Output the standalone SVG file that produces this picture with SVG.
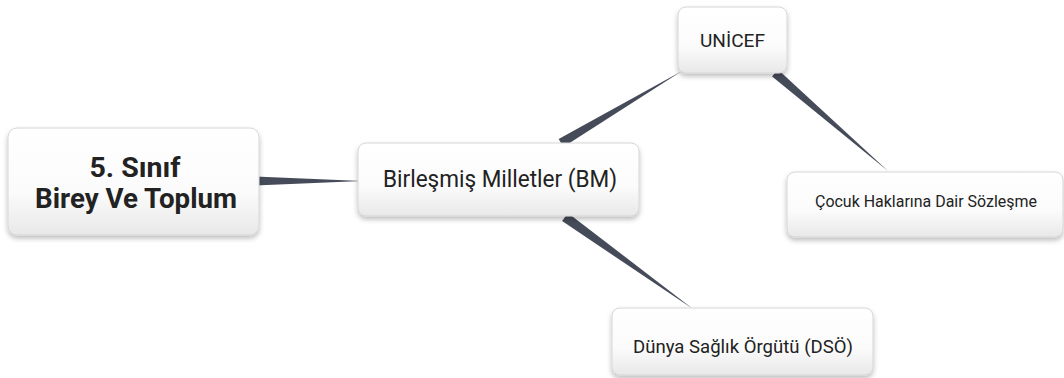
<svg xmlns="http://www.w3.org/2000/svg" width="1064" height="378" viewBox="0 0 1064 378">
<style>
.box{fill:url(#g);stroke:#d6d6d6;stroke-width:1;filter:url(#sh)}
.t{font-family:Roboto,"Liberation Sans",sans-serif;fill:#222;text-anchor:middle}
.c{fill:#464b59}
</style>
<defs>
<linearGradient id="g" x1="0" y1="0" x2="0" y2="1">
<stop offset="0" stop-color="#ffffff"/>
<stop offset="0.6" stop-color="#fbfbfb"/>
<stop offset="1" stop-color="#e8e8e8"/>
</linearGradient>
<filter id="sh" x="-10%" y="-20%" width="120%" height="150%">
<feDropShadow dx="0" dy="3" stdDeviation="2.5" flood-color="#000" flood-opacity="0.25"/>
</filter>
</defs>
<g id="connectors">
<polygon class="c" points="255,176.5 255,185.5 362,181"/>
<polygon class="c" points="558.7,139.1 563.3,146.9 682,71"/>
<polygon class="c" points="777.9,69.6 772.1,76.4 888,171"/>
<polygon class="c" points="567.9,212.9 562.1,221.1 693,309"/>
</g>
<g id="root">
<rect class="box" x="8" y="128" width="251" height="107" rx="9"/>
<text class="t" x="135" y="177" font-size="27.5" font-weight="bold" textLength="91" lengthAdjust="spacingAndGlyphs">5. Sınıf</text>
<text class="t" x="136" y="208" font-size="27.5" font-weight="bold" textLength="202" lengthAdjust="spacingAndGlyphs">Birey Ve Toplum</text>
</g>
<g id="bm">
<rect class="box" x="358" y="143" width="281" height="73" rx="8"/>
<text class="t" x="500" y="187" font-size="23.5" textLength="234" lengthAdjust="spacingAndGlyphs">Birleşmiş Milletler (BM)</text>
</g>
<g id="unicef">
<rect class="box" x="678" y="7" width="109" height="66" rx="8"/>
<text class="t" x="732.5" y="47" font-size="18.5" textLength="65" lengthAdjust="spacingAndGlyphs">UNİCEF</text>
</g>
<g id="cocuk">
<rect class="box" x="787" y="172" width="276" height="65" rx="8"/>
<text class="t" x="926" y="207" font-size="16" textLength="222" lengthAdjust="spacingAndGlyphs">Çocuk Haklarına Dair Sözleşme</text>
</g>
<g id="dso">
<rect class="box" x="612" y="308" width="261" height="67" rx="8"/>
<text class="t" x="743" y="353" font-size="18.7" textLength="220" lengthAdjust="spacingAndGlyphs">Dünya Sağlık Örgütü (DSÖ)</text>
</g>
</svg>
